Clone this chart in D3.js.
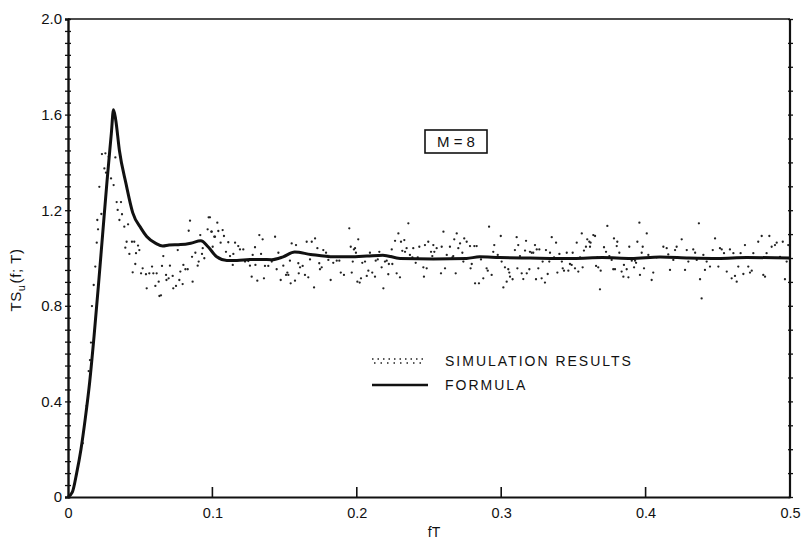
<!DOCTYPE html>
<html>
<head>
<meta charset="utf-8">
<script src="https://cdn.jsdelivr.net/npm/d3@7"></script>
<style>
  body { margin: 0; background: #fff; }
  text { font-family: "Liberation Sans", Arial, sans-serif; fill: #111; }
</style>
</head>
<body>
<div id="chart"></div>
<script>
// formula curve
const formulaFT = [0, 0.003, 0.006, 0.009, 0.012, 0.015, 0.018, 0.021, 0.024, 0.027, 0.030, 0.0315, 0.033, 0.0356, 0.0402, 0.0448, 0.0506, 0.0545, 0.0609, 0.0656, 0.070, 0.078, 0.085, 0.092, 0.097, 0.103, 0.110, 0.117, 0.126, 0.134, 0.141, 0.149, 0.157, 0.168, 0.184, 0.195, 0.207, 0.218, 0.230, 0.253, 0.276, 0.285, 0.299, 0.32, 0.35, 0.37, 0.39, 0.41, 0.43, 0.45, 0.47, 0.5];
const formulaTS = [0, 0.02, 0.10, 0.20, 0.33, 0.48, 0.67, 0.88, 1.10, 1.32, 1.52, 1.62, 1.58, 1.45, 1.31, 1.19, 1.124, 1.09, 1.061, 1.05, 1.054, 1.056, 1.062, 1.072, 1.047, 1.005, 0.99, 0.99, 0.994, 0.994, 0.993, 1.005, 1.025, 1.015, 1.005, 1.005, 1.008, 1.012, 0.998, 0.996, 0.998, 1.005, 1.002, 1.0, 0.998, 1.002, 0.998, 1.004, 1.0, 0.998, 1.002, 1.0];

// simulation results [fT, TS]
const simPoints = [
[0.0102,0.225],[0.0129,0.381],[0.0143,0.527],[0.0152,0.573],[0.0159,0.646],[0.0166,0.799],[0.0178,0.887],[0.0189,0.964],[0.0199,1.064],[0.0203,1.159],[0.0208,1.12],[0.0217,1.298],[0.0231,1.184],[0.0235,1.435],[0.0252,1.375],[0.0259,1.438],[0.0263,1.357],[0.0282,1.424],[0.0298,1.333],[0.0316,1.305],[0.0328,1.421],[0.0337,1.234],[0.0344,1.201],[0.0356,1.159],[0.0367,1.234],[0.0374,1.183],[0.039,1.131],[0.0397,1.043],[0.0406,1.068],[0.0416,1.141],[0.0425,1.017],[0.0443,1.068],[0.0448,0.940],[0.0459,1.068],[0.0466,0.975],[0.0471,1.02],[0.0485,1.052],[0.0494,1.033],[0.0506,0.936],[0.0517,0.957],[0.054,0.932],[0.0545,0.873],[0.0563,0.936],[0.0582,0.964],[0.0591,0.936],[0.0605,0.883],[0.0614,0.936],[0.0628,0.901],[0.0633,0.841],[0.0644,0.844],[0.0651,0.967],[0.066,1.008],[0.0679,0.929],[0.0682,0.908],[0.0697,0.915],[0.0706,0.968],[0.0725,0.925],[0.0729,0.873],[0.0748,0.883],[0.076,1.033],[0.0771,0.908],[0.0778,0.943],[0.0794,0.891],[0.0799,0.971],[0.0813,0.953],[0.0829,0.953],[0.0836,1.114],[0.0845,1.156],[0.0859,1.005],[0.0863,0.901],[0.0882,1.022],[0.0898,0.968],[0.0905,0.985],[0.0916,1.096],[0.0928,1.017],[0.0933,1.041],[0.0944,0.999],[0.0967,1.12],[0.0974,1.17],[0.0983,1.17],[0.0993,1.11],[0.0995,1.11],[0.1002,1.047],[0.1013,1.089],[0.1018,1.089],[0.1034,1.148],[0.1041,1.113],[0.1057,1.064],[0.1071,1.117],[0.108,1.092],[0.1094,1.026],[0.111,1.066],[0.1122,1.008],[0.1141,0.971],[0.1145,1.017],[0.1157,1.064],[0.1179,1.05],[0.1191,1.036],[0.1214,1.036],[0.1226,0.985],[0.1249,0.987],[0.126,0.968],[0.1272,0.922],[0.1279,1.013],[0.1295,1.045],[0.1298,0.971],[0.1311,0.905],[0.1325,1.096],[0.1337,1.017],[0.1348,1.078],[0.1357,0.915],[0.1364,0.967],[0.1387,0.967],[0.1411,0.985],[0.1434,1.089],[0.1445,0.953],[0.1457,1.022],[0.1473,0.908],[0.1491,0.968],[0.151,0.929],[0.1519,0.939],[0.1526,0.929],[0.1537,0.989],[0.1542,0.894],[0.1549,1.061],[0.1572,0.905],[0.1579,1.054],[0.1595,0.978],[0.1598,0.936],[0.1607,0.961],[0.1625,0.967],[0.1641,0.929],[0.1653,1.068],[0.1664,0.919],[0.1676,0.994],[0.1688,1.068],[0.1704,0.877],[0.1711,1.082],[0.1727,1.041],[0.174,0.978],[0.1745,0.953],[0.1757,0.961],[0.1768,1.033],[0.1787,1.022],[0.1803,0.992],[0.1819,0.908],[0.1837,0.98],[0.1861,0.989],[0.1879,0.989],[0.1889,0.939],[0.1911,0.929],[0.1948,1.124],[0.1958,1.047],[0.1965,0.939],[0.1972,0.985],[0.198,1.036],[0.1988,1.041],[0.1994,1.022],[0.2004,0.901],[0.201,1.078],[0.202,0.897],[0.2029,0.915],[0.2038,0.98],[0.2057,0.985],[0.2069,0.925],[0.208,0.947],[0.2091,1.022],[0.2107,0.939],[0.2126,0.922],[0.2131,0.989],[0.2145,0.994],[0.2156,1.026],[0.2172,0.961],[0.2184,0.873],[0.2195,0.985],[0.2207,0.989],[0.2218,0.932],[0.2222,0.975],[0.2242,1.036],[0.2246,0.975],[0.2265,1.072],[0.2276,0.936],[0.2288,1.103],[0.2299,0.919],[0.2306,1.068],[0.2315,1.03],[0.2329,1.075],[0.2334,1.026],[0.2345,1.041],[0.2357,1.145],[0.2368,1.013],[0.2385,1.003],[0.2391,1.041],[0.2408,0.98],[0.2422,1.003],[0.2433,1.047],[0.2461,0.961],[0.2465,0.922],[0.2472,1.054],[0.2484,0.957],[0.2495,1.068],[0.2514,1.026],[0.2523,1.008],[0.253,1.054],[0.2537,1.026],[0.2553,1.041],[0.2583,0.936],[0.2588,1.047],[0.26,1.11],[0.2611,0.957],[0.2623,1.013],[0.2645,1.047],[0.2662,1.003],[0.2668,1.008],[0.2675,1.078],[0.2685,0.936],[0.2692,1.103],[0.2703,1.041],[0.2715,1.061],[0.2731,1.022],[0.2738,0.985],[0.2744,1.082],[0.2761,1.068],[0.2784,1.05],[0.2788,0.957],[0.2796,0.975],[0.2814,1.05],[0.2819,0.894],[0.283,1.05],[0.2846,0.894],[0.286,0.994],[0.2876,0.915],[0.2899,0.957],[0.2907,0.947],[0.2916,1.131],[0.2934,0.929],[0.2945,1.026],[0.2952,1.054],[0.2976,1.013],[0.2997,1.092],[0.3003,0.985],[0.3015,0.877],[0.3026,0.961],[0.3038,0.901],[0.3049,0.953],[0.3056,0.939],[0.3061,0.922],[0.3079,0.911],[0.3095,1.033],[0.3107,1.087],[0.3112,0.957],[0.3118,1.054],[0.313,1.008],[0.3142,0.936],[0.3153,0.912],[0.3165,1.031],[0.3172,1.072],[0.3177,0.936],[0.3195,0.953],[0.3199,1.026],[0.3211,1.022],[0.3222,1.022],[0.3234,1.054],[0.3241,0.911],[0.3246,1.036],[0.3257,0.957],[0.3264,1.036],[0.328,0.915],[0.3287,0.985],[0.3303,0.897],[0.331,1.033],[0.3322,0.933],[0.3333,0.985],[0.3338,1.022],[0.335,1.087],[0.3366,1.003],[0.338,1.064],[0.3389,0.939],[0.3403,1.017],[0.342,0.985],[0.3426,0.957],[0.3435,0.947],[0.3454,1.022],[0.3465,0.947],[0.3476,0.975],[0.3488,0.971],[0.3495,1.022],[0.3511,0.957],[0.3523,1.064],[0.3534,0.943],[0.3546,1.003],[0.3558,1.103],[0.3564,0.961],[0.3573,1.031],[0.3587,1.047],[0.3596,1.078],[0.361,1.068],[0.3615,1.047],[0.3619,1.064],[0.3638,1.096],[0.365,1.092],[0.3657,0.967],[0.3666,1.003],[0.3672,0.961],[0.3684,0.869],[0.3689,0.947],[0.3712,1.045],[0.3726,1.026],[0.3735,1.134],[0.3749,1.008],[0.3765,0.992],[0.3776,0.953],[0.3781,1.082],[0.3788,0.953],[0.38,1.05],[0.3804,1.068],[0.3818,1.022],[0.3834,0.943],[0.3846,0.922],[0.385,0.971],[0.3869,0.953],[0.3881,0.919],[0.3887,1.047],[0.3904,0.989],[0.392,0.961],[0.3927,0.989],[0.3934,0.98],[0.3943,1.068],[0.3957,1.148],[0.3961,0.929],[0.3973,1.022],[0.398,1.047],[0.3989,0.957],[0.4008,1.103],[0.4019,1.013],[0.4042,0.908],[0.4053,0.939],[0.4077,1.003],[0.4123,1.047],[0.4146,1.041],[0.4157,1.015],[0.4169,0.95],[0.4192,0.992],[0.4204,1.033],[0.4215,1.047],[0.425,1.078],[0.4273,0.95],[0.4285,1.033],[0.4296,0.985],[0.433,1.036],[0.4343,1.022],[0.4354,0.992],[0.4369,1.145],[0.4377,0.911],[0.4388,0.831],[0.44,1.013],[0.4411,0.95],[0.4423,0.985],[0.4446,0.964],[0.4465,1.033],[0.4481,1.082],[0.4492,0.998],[0.4504,0.964],[0.4515,1.041],[0.4527,1.036],[0.4543,1.02],[0.4562,0.943],[0.4584,1.036],[0.4596,0.915],[0.4608,1.02],[0.4619,0.925],[0.4631,0.901],[0.4642,0.964],[0.4658,1.02],[0.4677,0.933],[0.4688,1.054],[0.4711,0.964],[0.4723,0.939],[0.4735,0.947],[0.4746,1.02],[0.478,1.068],[0.4804,1.092],[0.4815,0.929],[0.4827,0.922],[0.4838,1.02],[0.4857,1.092],[0.4873,1.047],[0.4896,1.054],[0.4908,1.064],[0.4931,1.005],[0.495,1.068],[0.4965,0.911],[0.4977,0.985],[0.4988,1.054]
];

const xTicks = [0, 0.1, 0.2, 0.3, 0.4, 0.5];
const yTicks = [0, 0.4, 0.8, 1.2, 1.6, 2.0];
const yMinorTicks = d3.range(0, 2.0001, 0.05);
const yRightTicks = d3.range(0, 2.0001, 0.1);

const margin = {top: 19, right: 14, bottom: 45, left: 68},
    width = 804 - margin.left - margin.right,
    height = 542 - margin.top - margin.bottom;

const svg = d3.select("#chart")
    .append("svg")
    .attr("width", 804)
    .attr("height", 542)
    .append("g")
    .attr("transform", "translate(" + margin.left + "," + margin.top + ")");

const x = d3.scaleLinear().domain([0, 0.5]).range([0, width]);
const y = d3.scaleLinear().domain([0, 2.0]).range([height, 0]);

// frame: top and right edges
svg.append("line").attr("x1", 0).attr("x2", width).attr("y1", 0).attr("y2", 0)
    .attr("stroke", "#111").attr("stroke-width", 1.6);
svg.append("line").attr("x1", width).attr("x2", width).attr("y1", 0).attr("y2", height)
    .attr("stroke", "#111").attr("stroke-width", 2.2);

// left axis, cross ticks every 0.05
svg.append("g")
    .call(d3.axisLeft(y).tickValues(yMinorTicks).tickSize(3).tickFormat(""))
    .call(g => g.selectAll(".tick line").attr("x2", 3).attr("x1", -3).attr("stroke", "#111").attr("stroke-width", 1.3))
    .call(g => g.select(".domain").attr("stroke", "#111").attr("stroke-width", 2.4));

svg.append("g")
    .call(d3.axisLeft(y).tickValues(yTicks).tickSize(0).tickPadding(6)
        .tickFormat(d => d === 0 ? "0" : d3.format(".1f")(d)))
    .call(g => g.select(".domain").remove())
    .call(g => g.selectAll("text").attr("font-size", 15).attr("font-family", "Liberation Sans, Arial, sans-serif").attr("fill", "#111"));

// right axis ticks every 0.1
svg.append("g")
    .attr("transform", "translate(" + width + ",0)")
    .call(d3.axisRight(y).tickValues(yRightTicks).tickSize(3).tickFormat(""))
    .call(g => g.selectAll(".tick line").attr("x1", -2).attr("stroke", "#111").attr("stroke-width", 1.3))
    .call(g => g.select(".domain").remove());

// bottom axis
svg.append("g")
    .attr("transform", "translate(0," + height + ")")
    .call(d3.axisBottom(x).tickValues(xTicks).tickSize(0).tickPadding(11)
        .tickFormat(d => d === 0 ? "0" : d3.format(".1f")(d)))
    .call(g => g.select(".domain").attr("stroke", "#111").attr("stroke-width", 2))
    .call(g => g.selectAll("text").attr("font-size", 14.5).attr("font-family", "Liberation Sans, Arial, sans-serif").attr("fill", "#111"));

svg.append("g").selectAll(".xtick")
    .data(xTicks.slice(1, 5))
    .enter().append("line")
    .attr("x1", d => x(d)).attr("x2", d => x(d))
    .attr("y1", height).attr("y2", height - 10)
    .attr("stroke", "#111").attr("stroke-width", 1.6);

// simulation dots
svg.append("g").selectAll(".sim")
    .data(simPoints)
    .enter().append("circle")
    .attr("class", "sim")
    .attr("cx", d => x(d[0]))
    .attr("cy", d => y(d[1]))
    .attr("r", 1.15)
    .attr("fill", "#222");

// formula line
const formula = formulaFT.map((f, i) => [f, formulaTS[i]]);
svg.append("path")
    .datum(formula)
    .attr("fill", "none")
    .attr("stroke", "#111")
    .attr("stroke-width", 3)
    .attr("stroke-linejoin", "round")
    .attr("d", d3.line().x(d => x(d[0])).y(d => y(d[1])).curve(d3.curveMonotoneX));

// axis titles
svg.append("text")
    .attr("x", width / 2 + 5)
    .attr("y", height + 40)
    .attr("text-anchor", "middle")
    .attr("font-size", 14)
    .text("fT");

const yl = svg.append("text")
    .attr("transform", "translate(-47," + (height / 2 + 22) + ") rotate(-90)")
    .attr("text-anchor", "middle")
    .attr("font-size", 15)
    .attr("letter-spacing", 0.6);
yl.append("tspan").text("TS");
yl.append("tspan").attr("font-size", 11).attr("dy", 4).text("u");
yl.append("tspan").attr("dy", -4).attr("dx", 1).text("(f; T)");

// M = 8 box
svg.append("rect")
    .attr("x", 357).attr("y", 111).attr("width", 62).attr("height", 23)
    .attr("fill", "none").attr("stroke", "#111").attr("stroke-width", 1.6);
svg.append("text")
    .attr("x", 388).attr("y", 128)
    .attr("text-anchor", "middle")
    .attr("font-size", 15)
    .text("M = 8");

// legend
const lg = svg.append("g").attr("transform", "translate(304,342)");
lg.append("line").attr("x1", 0).attr("x2", 54).attr("y1", -2).attr("y2", -2)
    .attr("stroke", "#222").attr("stroke-width", 1.6).attr("stroke-dasharray", "1.5,4");
lg.append("line").attr("x1", 2).attr("x2", 54).attr("y1", 2).attr("y2", 2)
    .attr("stroke", "#222").attr("stroke-width", 1.6).attr("stroke-dasharray", "1.5,5");
lg.append("text").attr("x", 73).attr("y", 5).attr("font-size", 14)
    .attr("letter-spacing", 2).text("SIMULATION RESULTS");
lg.append("line").attr("x1", 0).attr("x2", 56).attr("y1", 24).attr("y2", 24)
    .attr("stroke", "#111").attr("stroke-width", 2.6);
lg.append("text").attr("x", 73).attr("y", 29).attr("font-size", 14)
    .attr("letter-spacing", 2).text("FORMULA");
</script>
</body>
</html>
